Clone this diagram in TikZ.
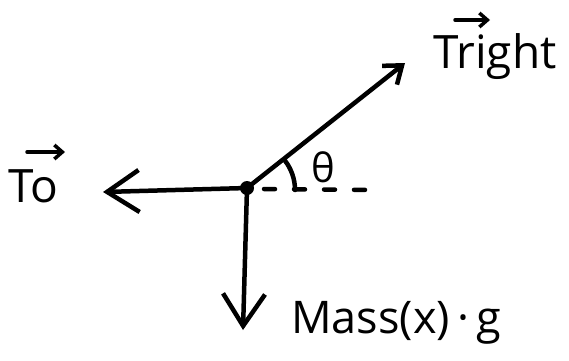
\documentclass[tikz,border=0pt]{standalone}
\usepackage{fontspec}
\setmainfont{Open Sans}
\usetikzlibrary{arrows.meta}
\begin{document}
\begin{tikzpicture}[x=1pt,y=-1pt,
  force/.style={line width=4.5pt,line cap=round,line join=round},
  bigtip/.style={-{Straight Barb[length=32pt,width=42pt,line width=4.5pt]}},
  smalltip/.style={-{Straight Barb[length=16pt,width=24pt,line width=4.5pt]}},
  vecarrow/.style={line width=3.5pt,line cap=round,-{Straight Barb[length=8pt,width=14pt,line width=3.5pt]}},
  lbl/.style={inner sep=0pt,anchor=base west}]
\useasboundingbox (0,0) rectangle (569,360);
\coordinate (c) at (247,188);
\coordinate (tr) at (405,63);
\coordinate (tl) at (103,192);
\coordinate (td) at (243,330);
\coordinate (dashend) at (378,190);
\draw[force,smalltip] (c) -- (tr);
\draw[force,bigtip] (c) -- (tl);
\draw[force,bigtip] (c) -- (td);
\fill (c) circle (7pt);
\draw[force,dash pattern=on 11pt off 19pt] ([xshift=17pt,yshift=-1pt]c) -- (dashend);
\draw[force] ([xshift=48pt,yshift=-2pt]c) arc[start angle=0,end angle=38,radius=48pt];
\node[lbl,font=\fontsize{40}{44}\selectfont] (theta) at (311,182) {θ};
\node[lbl,font=\fontsize{46}{50}\selectfont] (Tright) at (433,68) {Tright};
\node[lbl,font=\fontsize{46}{50}\selectfont] (To) at (8,202) {To};
\node[lbl,font=\fontsize{45}{50}\selectfont] (mass) at (291,333) {Mass(x)\,·\,g};
\draw[vecarrow] ([xshift=22pt,yshift=48pt]Tright.base west) -- ([xshift=57pt,yshift=48pt]Tright.base west);
\draw[vecarrow] ([xshift=19pt,yshift=50pt]To.base west) -- ([xshift=57pt,yshift=50pt]To.base west);
\end{tikzpicture}
\end{document}
